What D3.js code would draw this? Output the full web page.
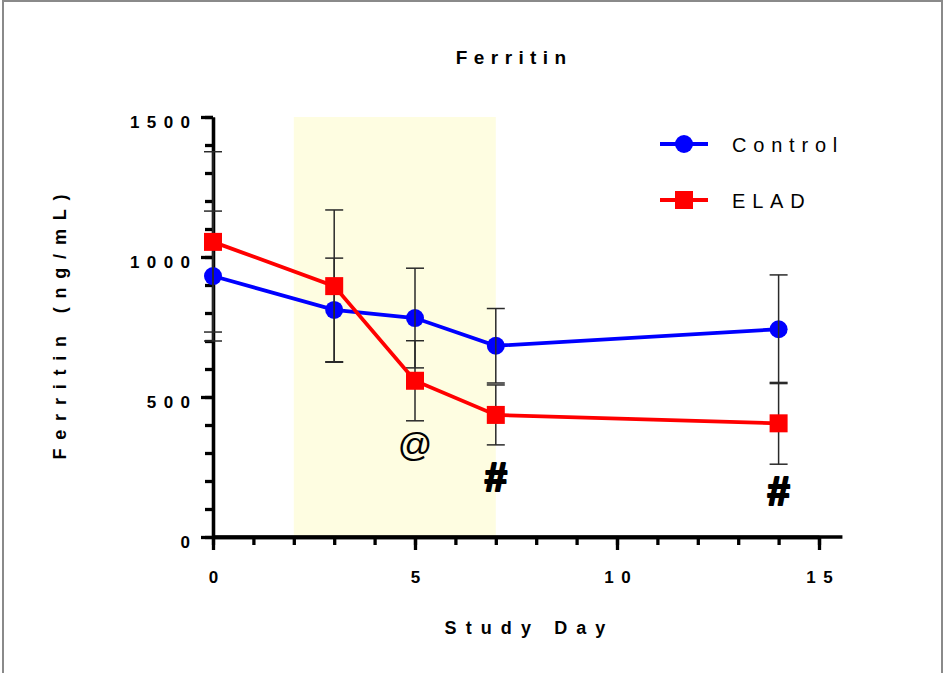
<!DOCTYPE html>
<html><head><meta charset="utf-8">
<script src="https://cdn.jsdelivr.net/npm/d3@7"></script>
<style>body{margin:0;background:#fff} svg{display:block} text{font-family:"Liberation Sans",Arial,sans-serif}</style>
</head><body>
<svg id="chart" width="943" height="673"></svg>
<script>
// ---- data ----
const days = [0, 3, 5, 7, 14];
const controlMean = [932, 811, 782, 683, 742];
const controlErr  = [232, 185, 178, 133, 194];
const eladMean    = [1054, 896, 558, 436, 406];
const eladErr     = [322, 272, 143, 107, 146];
const seriesNames = ["Control", "ELAD"];
const yTicks = [0, 500, 1000, 1500];
const yMinor = d3.range(0, 1501, 100);
const xTicks = [0, 5, 10, 15];
const xMinor = d3.range(0, 16, 1);
const shadeDays = [2, 7];
const annotDays = [5, 7, 14];
const annotValues = [322, 215, 164];
const annotLabels = ["@", "#", "#"];

const svg = d3.select("#chart");
const x = d3.scaleLinear().domain([0, 15]).range([213, 819]);
const y = d3.scaleLinear().domain([0, 1500]).range([537, 117]);

// border
svg.append("rect").attr("x", 3).attr("y", 1).attr("width", 939).attr("height", 700)
  .attr("fill", "none").attr("stroke", "#8a8a8a").attr("stroke-width", 2);

// shaded region
svg.append("rect").attr("x", x(shadeDays[0])).attr("y", y(1500))
  .attr("width", x(shadeDays[1]) - x(shadeDays[0])).attr("height", y(0) - y(1500))
  .attr("fill", "#fefde1");

// title
svg.append("text").attr("x", 511 + 3.2).attr("y", 63.5).attr("text-anchor", "middle")
  .attr("font-size", 19).attr("font-weight", "bold").attr("letter-spacing", 6.4).text("Ferritin");

// axes
const axW = 3.3;
const tickLS = 7.4;
const yMinorAxis = svg.append("g").attr("transform", `translate(${x(0)},0)`)
  .call(d3.axisLeft(y).tickValues(yMinor).tickSize(8).tickSizeOuter(0).tickFormat(""));
const yAxis = svg.append("g").attr("transform", `translate(${x(0)},0)`)
  .call(d3.axisLeft(y).tickValues(yTicks).tickSize(12).tickSizeOuter(0).tickPadding(11 - tickLS).tickFormat(d3.format("d")));
const xMinorAxis = svg.append("g").attr("transform", `translate(0,${y(0)})`)
  .call(d3.axisBottom(x).tickValues(xMinor).tickSize(8).tickSizeOuter(0).tickFormat(""));
const xAxis = svg.append("g").attr("transform", `translate(0,${y(0)})`)
  .call(d3.axisBottom(x).tickValues(xTicks).tickSize(13).tickSizeOuter(0).tickPadding(21).tickFormat(d3.format("d")));
// extend x axis to the right
svg.append("line").attr("x1", x(0)).attr("x2", x(15.58)).attr("y1", y(0)).attr("y2", y(0))
  .attr("stroke", "#000").attr("stroke-width", axW);

[yMinorAxis, yAxis, xMinorAxis, xAxis].forEach(g => {
  g.selectAll("path.domain").attr("stroke", "#000").attr("stroke-width", axW);
  g.selectAll(".tick line").attr("stroke", "#000").attr("stroke-width", axW);
  g.selectAll("text").attr("font-size", 17).attr("font-weight", "bold")
    .attr("font-family", '"Liberation Sans",Arial,sans-serif').attr("fill", "#000")
    .attr("letter-spacing", tickLS);
});
xAxis.selectAll("text").attr("dx", tickLS / 2);
yAxis.selectAll("text").attr("dy", "0.62em");

// axis titles
svg.append("text").attr("x", 525 + 4.5).attr("y", 634).attr("text-anchor", "middle")
  .attr("font-size", 18).attr("font-weight", "bold").attr("letter-spacing", 9.1).text("Study Day");
svg.append("text").attr("transform", `translate(66,${327 - 4.4}) rotate(-90)`).attr("text-anchor", "middle")
  .attr("font-size", 18).attr("font-weight", "bold").attr("letter-spacing", 8.8).text("Ferritin (ng/mL)");

// series
const ctrl = days.map((d, i) => ({d, m: controlMean[i], e: controlErr[i]}));
const elad = days.map((d, i) => ({d, m: eladMean[i], e: eladErr[i]}));
const line = d3.line().x(p => x(p.d)).y(p => y(p.m));
const capW = 9;

function errBars(data) {
  const g = svg.append("g").attr("stroke", "#2a2a2a").attr("stroke-width", 1.5);
  data.forEach(p => {
    g.append("line").attr("x1", x(p.d)).attr("x2", x(p.d)).attr("y1", y(p.m + p.e)).attr("y2", y(p.m - p.e));
    [p.m + p.e, p.m - p.e].forEach(v => g.append("line").attr("x1", x(p.d) - capW).attr("x2", x(p.d) + capW)
      .attr("y1", y(v)).attr("y2", y(v)));
  });
}

svg.append("path").datum(ctrl).attr("d", line).attr("fill", "none").attr("stroke", "#0000ff").attr("stroke-width", 3.8);
svg.append("g").selectAll("circle").data(ctrl).join("circle")
  .attr("cx", p => x(p.d)).attr("cy", p => y(p.m)).attr("r", 9).attr("fill", "#0000ff");
errBars(ctrl);
errBars(elad);
svg.append("path").datum(elad).attr("d", line).attr("fill", "none").attr("stroke", "#ff0000").attr("stroke-width", 3.8);
svg.append("g").selectAll("rect").data(elad).join("rect")
  .attr("x", p => x(p.d) - 9).attr("y", p => y(p.m) - 9).attr("width", 18).attr("height", 18).attr("fill", "#ff0000");

// annotations
annotDays.forEach((d, i) => {
  const lab = annotLabels[i];
  const isAt = lab === "@";
  const t = svg.append("text").attr("x", x(d)).attr("y", y(annotValues[i]) + (isAt ? 9 : 14.3))
    .attr("text-anchor", "middle").attr("font-size", isAt ? 34 : 40)
    .attr("font-weight", isAt ? "normal" : "bold").text(lab);
  if (!isAt) t.attr("stroke", "#000").attr("stroke-width", 2.2).attr("stroke-linejoin", "round");
});

// legend
const legY = [144, 200];
const legColors = ["#0000ff", "#ff0000"];
seriesNames.forEach((name, i) => {
  svg.append("line").attr("x1", 660).attr("x2", 708).attr("y1", legY[i]).attr("y2", legY[i])
    .attr("stroke", legColors[i]).attr("stroke-width", 3.8);
  if (i === 0) svg.append("circle").attr("cx", 684).attr("cy", legY[i]).attr("r", 9).attr("fill", legColors[i]);
  else svg.append("rect").attr("x", 675).attr("y", legY[i] - 9).attr("width", 18).attr("height", 18).attr("fill", legColors[i]);
  svg.append("text").attr("x", 732).attr("y", legY[i] + 7.5).attr("font-size", 20)
    .attr("letter-spacing", 6.8).text(name);
});
</script>
</body></html>
